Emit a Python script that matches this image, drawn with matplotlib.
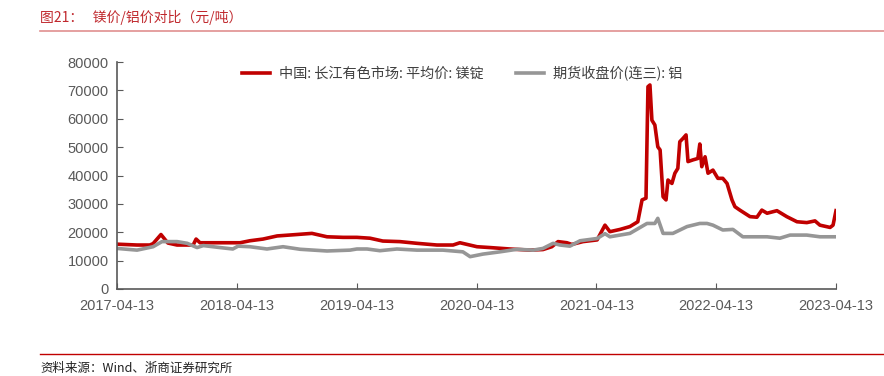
import pandas as pd
import matplotlib.pyplot as plt
import matplotlib.dates as mdates

plt.rcParams['font.family'] = ['Liberation Sans', 'Noto Sans CJK SC', 'DejaVu Sans']

# 中国:长江有色市场:平均价:镁锭
mg_dates = ['2017-04-13', '2017-06-13', '2017-07-22', '2017-08-01', '2017-08-25', '2017-09-15',
            '2017-10-13', '2017-12-01', '2017-12-10', '2017-12-22', '2018-04-23', '2018-05-23',
            '2018-07-02', '2018-08-14', '2018-10-01', '2018-11-28', '2019-01-13', '2019-03-03',
            '2019-04-14', '2019-05-24', '2019-07-02', '2019-08-23', '2019-10-14', '2019-12-14',
            '2020-02-01', '2020-02-22', '2020-04-14', '2020-05-24', '2020-07-23', '2020-09-22',
            '2020-11-01', '2020-11-28', '2020-12-17', '2021-01-13', '2021-01-28', '2021-03-03',
            '2021-04-15', '2021-05-09', '2021-05-24', '2021-06-24', '2021-07-24', '2021-08-17',
            '2021-08-30', '2021-09-11', '2021-09-17', '2021-09-23', '2021-09-29', '2021-10-08',
            '2021-10-17', '2021-10-24', '2021-11-02', '2021-11-11', '2021-11-17', '2021-11-29',
            '2021-12-08', '2021-12-17', '2021-12-23', '2022-01-02', '2022-01-11', '2022-01-17',
            '2022-02-01', '2022-02-16', '2022-02-22', '2022-02-28', '2022-03-10', '2022-03-19',
            '2022-04-03', '2022-04-18', '2022-05-03', '2022-05-16', '2022-05-31', '2022-06-09',
            '2022-06-24', '2022-07-25', '2022-08-15', '2022-08-30', '2022-09-15', '2022-10-15',
            '2022-11-14', '2022-12-15', '2023-01-14', '2023-02-08', '2023-02-23', '2023-03-26',
            '2023-04-04', '2023-04-13']
mg_price = [15800, 15500, 15500, 16000, 19200, 16200,
            15500, 15500, 17600, 16300, 16300, 17000,
            17600, 18700, 19100, 19600, 18400, 18200,
            18200, 17900, 16900, 16700, 16100, 15500,
            15500, 16300, 14900, 14600, 14100, 13700,
            13900, 14900, 16700, 16300, 15700, 16700,
            17300, 22500, 20200, 21000, 22000, 23700,
            31400, 32000, 71300, 71900, 59500, 57800,
            50100, 49000, 32500, 31400, 38400, 37200,
            40800, 42500, 51900, 53100, 54300, 44900,
            45500, 46000, 51100, 43100, 46600, 40800,
            41900, 39000, 39000, 37200, 31400, 29000,
            27800, 25500, 25300, 27800, 26700, 27600,
            25500, 23700, 23400, 24000, 22500, 21700,
            22500, 27600]

# 期货收盘价(连三):铝
al_dates = ['2017-04-13', '2017-06-13', '2017-08-01', '2017-08-28', '2017-10-13', '2017-11-13',
            '2017-12-13', '2018-01-01', '2018-02-21', '2018-04-01', '2018-04-17', '2018-05-23',
            '2018-07-14', '2018-09-01', '2018-10-23', '2019-01-13', '2019-03-24', '2019-04-14',
            '2019-05-15', '2019-06-23', '2019-08-14', '2019-10-14', '2020-01-01', '2020-03-02',
            '2020-03-24', '2020-05-02', '2020-06-23', '2020-08-14', '2020-10-02', '2020-11-01',
            '2020-12-02', '2020-12-23', '2021-01-22', '2021-02-22', '2021-04-15', '2021-05-09',
            '2021-05-24', '2021-07-24', '2021-09-14', '2021-10-08', '2021-10-17', '2021-11-02',
            '2021-12-02', '2022-01-14', '2022-02-22', '2022-03-16', '2022-04-03', '2022-05-03',
            '2022-06-03', '2022-07-03', '2022-08-15', '2022-09-15', '2022-10-24', '2022-11-24',
            '2023-01-14', '2023-02-23', '2023-04-13']
al_price = [14300, 13700, 14900, 16700, 16700, 16100,
            14600, 15300, 14600, 14100, 15100, 14900,
            14100, 14900, 14000, 13400, 13700, 14100,
            14100, 13500, 14100, 13700, 13700, 13100,
            11400, 12300, 13100, 14000, 13700, 14300,
            16100, 15500, 15100, 17000, 17800, 19500,
            18400, 19600, 23100, 23100, 24900, 19600,
            19600, 22000, 23100, 23100, 22500, 20800,
            21000, 18400, 18400, 18400, 17900, 19000,
            19000, 18400, 18400]

x_ticks = ['2017-04-13', '2018-04-13', '2019-04-13', '2020-04-13',
           '2021-04-13', '2022-04-13', '2023-04-13']

fig = plt.figure(figsize=(8.84, 3.76), dpi=100)
ax = fig.add_axes([117 / 884, 87 / 376, 719 / 884, 227 / 376])

ax.plot(pd.to_datetime(mg_dates), mg_price, color='#c00000', lw=2.6,
        label='中国: 长江有色市场: 平均价: 镁锭')
ax.plot(pd.to_datetime(al_dates), al_price, color='#969696', lw=2.6,
        label='期货收盘价(连三): 铝')

ax.set_xlim(pd.Timestamp(x_ticks[0]), pd.Timestamp(x_ticks[-1]))
ax.set_ylim(0, 80000)
ax.set_yticks(range(0, 80001, 10000))
ax.set_xticks(pd.to_datetime(x_ticks))
ax.xaxis.set_major_formatter(mdates.DateFormatter('%Y-%m-%d'))

for s in ['top', 'right']:
    ax.spines[s].set_visible(False)
for s in ['left', 'bottom']:
    ax.spines[s].set_color('#595959')
    ax.spines[s].set_linewidth(1.2)
ax.tick_params(direction='in', length=4, colors='#595959', labelsize=10.5, pad=6)
ax.tick_params(axis='x', pad=7)

leg = ax.legend(loc='upper center', bbox_to_anchor=(0.48, 1.04), ncol=2, frameon=False,
                handlelength=2.0, columnspacing=2.3, handletextpad=0.6,
                prop={'family': ['Noto Sans CJK SC'], 'size': 10.2})
for t in leg.get_texts():
    t.set_color('#404040')

fig.text(40 / 884, 1 - 17 / 376, '图21：   镁价/铝价对比（元/吨）', color='#c0282d',
         fontsize=10, va='center', family=['Noto Sans CJK SC'])
fig.add_artist(plt.Line2D([40 / 884, 1], [1 - 31 / 376] * 2, color='#e09090', lw=1.2))
fig.add_artist(plt.Line2D([40 / 884, 1], [1 - 354 / 376] * 2, color='#c00000', lw=1.0))
fig.text(40 / 884, 1 - 368 / 376, '资料来源：Wind、浙商证券研究所', color='#222222',
         fontsize=9, va='center', family=['Noto Sans CJK SC'])

fig.savefig('out.png', dpi=100)
